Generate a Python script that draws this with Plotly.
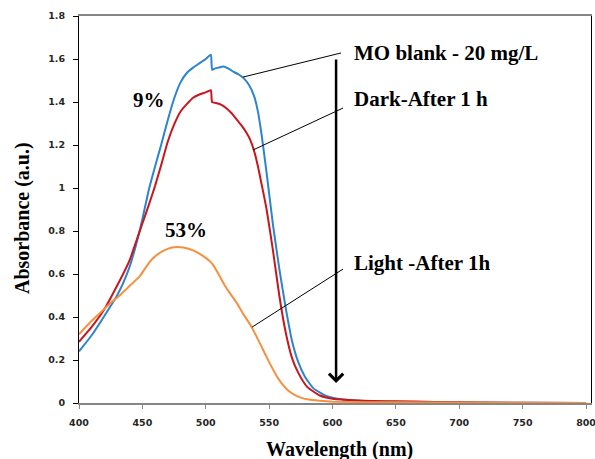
import plotly.graph_objects as go

# ---------------- data ----------------
wl_blank = [400, 410, 420, 430, 435, 440, 445, 450, 455, 460, 465, 470, 475, 480, 485, 490, 495,
            500, 504, 505, 507, 510, 514, 518, 522, 526, 530, 534, 538, 541, 544, 548, 553, 558,
            563, 568, 573, 578, 585, 595, 610, 630, 660, 700, 750, 800]
abs_blank = [0.24, 0.315, 0.405, 0.50, 0.56, 0.635, 0.735, 0.855, 0.99, 1.10, 1.205, 1.315, 1.415, 1.49,
             1.535, 1.56, 1.58, 1.60, 1.62, 1.55, 1.555, 1.56, 1.565, 1.555, 1.54, 1.528, 1.51, 1.48,
             1.43, 1.36, 1.25, 1.07, 0.83, 0.625, 0.445, 0.29, 0.19, 0.125, 0.068, 0.033, 0.015,
             0.008, 0.004, 0.002, 0.001, 0.0]

wl_dark = [400, 410, 420, 430, 440, 445, 450, 455, 460, 465, 470, 475, 480, 485, 490, 495, 500, 504,
           505, 508, 512, 516, 520, 524, 528, 532, 535, 538, 541, 545, 548, 553, 558, 563, 568, 573,
           580, 590, 600, 620, 650, 680, 720, 800]
abs_dark = [0.285, 0.354, 0.436, 0.545, 0.665, 0.75, 0.835, 0.92, 1.01, 1.11, 1.215, 1.295, 1.355,
            1.39, 1.42, 1.435, 1.445, 1.455, 1.40, 1.395, 1.388, 1.372, 1.35, 1.322, 1.292, 1.258,
            1.225, 1.175, 1.105, 0.99, 0.90, 0.71, 0.50, 0.33, 0.21, 0.14, 0.075, 0.035, 0.02, 0.012,
            0.008, 0.005, 0.002, 0.0]

wl_light = [400, 408, 416, 424, 432, 440, 448, 452, 456, 460, 465, 470, 475, 480, 485, 490, 495, 500,
            504, 506, 510, 515, 520, 525, 530, 535, 540, 545, 550, 555, 560, 565, 570, 575, 580,
            590, 600, 650, 800]
abs_light = [0.32, 0.37, 0.415, 0.46, 0.50, 0.545, 0.59, 0.625, 0.658, 0.682, 0.703, 0.717, 0.724,
             0.725, 0.72, 0.71, 0.695, 0.675, 0.655, 0.64, 0.60, 0.547, 0.503, 0.46, 0.41, 0.365,
             0.31, 0.25, 0.19, 0.135, 0.09, 0.058, 0.038, 0.025, 0.017, 0.01, 0.006, 0.003, 0.0]

series_names = ["MO blank - 20 mg/L", "Dark-After 1 h", "Light -After 1h"]
series_colors = ["#2B84CC", "#C8161D", "#F5913E"]

x_ticks = [400, 450, 500, 550, 600, 650, 700, 750, 800]
y_ticks = [0, 0.2, 0.4, 0.6, 0.8, 1, 1.2, 1.4, 1.6, 1.8]
y_ticktext = ["0", "0.2", "0.4", "0.6", "0.8", "1", "1.2", "1.4", "1.6", "1.8"]

# label text positions (data coords) and leader lines (curve point -> label)
label_pos = [(615.4, 1.629), (615.4, 1.414), (615.4, 0.651)]
leader_lines = [((529.4, 1.516), (606.7, 1.628)),
                ((537.3, 1.177), (608.3, 1.372)),
                ((536.5, 0.353), (608.3, 0.623))]
pct_labels = [("9%", 455.2, 1.409), ("53%", 484.4, 0.805)]
arrow_x = 602.8
arrow_from, arrow_to = 1.605, 0.093

# ---------------- figure ----------------
fig = go.Figure()
for wl, ab, name, col in zip([wl_blank, wl_dark, wl_light],
                             [abs_blank, abs_dark, abs_light],
                             series_names, series_colors):
    fig.add_trace(go.Scatter(x=wl, y=ab, mode="lines", name=name,
                             line=dict(color=col, width=2, shape="spline", smoothing=0.5),
                             showlegend=False))

serif = "Liberation Serif, Times New Roman, serif"
ann = []
for (lx, ly), name in zip(label_pos, series_names):
    ann.append(dict(x=lx, y=ly, xref="x", yref="y", text="<b>" + name + "</b>", showarrow=False,
                    xanchor="left", yanchor="middle",
                    font=dict(family=serif, size=21, color="black")))
for t, px, py in pct_labels:
    ann.append(dict(x=px, y=py, xref="x", yref="y", text="<b>" + t + "</b>", showarrow=False,
                    xanchor="center", yanchor="middle",
                    font=dict(family=serif, size=21, color="black")))
ann.append(dict(x=arrow_x, y=arrow_to, ax=arrow_x, ay=arrow_from, xref="x", yref="y",
                axref="x", ayref="y", text="", showarrow=True, arrowhead=4, arrowsize=1.1,
                arrowwidth=2.5, arrowcolor="black"))
# axis titles
ann.append(dict(x=0.508, y=0, xref="paper", yref="paper", yshift=-46, text="<b>Wavelength (nm)</b>",
                showarrow=False, xanchor="center", yanchor="middle",
                font=dict(family=serif, size=20, color="black")))
ann.append(dict(x=0, y=0.478, xref="paper", yref="paper", xshift=-57, text="<b>Absorbance (a.u.)</b>",
                showarrow=False, xanchor="center", yanchor="middle", textangle=-90,
                font=dict(family=serif, size=20, color="black")))

shapes = []
for (x0, y0), (x1, y1) in leader_lines:
    shapes.append(dict(type="line", xref="x", yref="y", x0=x0, y0=y0, x1=x1, y1=y1,
                       line=dict(color="black", width=1)))

tickfont = dict(family="DejaVu Sans, Verdana, sans-serif", size=9.5, color="#262626", weight="bold")

fig.update_layout(
    width=595, height=459,
    margin=dict(l=79, r=4, t=16, b=56, autoexpand=False),
    paper_bgcolor="white", plot_bgcolor="white",
    annotations=ann, shapes=shapes,
    xaxis=dict(range=[400, 803.9], tickvals=x_ticks, ticks="outside", ticklen=4,
               tickcolor="#868686", showline=True, linecolor="#868686", linewidth=1.5,
               mirror=True, showgrid=False, zeroline=False, tickfont=tickfont,
               ticklabelstandoff=6, automargin=False, ticklabeloverflow="allow"),
    yaxis=dict(range=[0, 1.8], tickvals=y_ticks, ticktext=y_ticktext, ticks="outside", ticklen=5,
               tickcolor="black", showline=True, linecolor="black", linewidth=1.2,
               mirror=True, showgrid=False, zeroline=False, tickfont=tickfont,
               ticklabelstandoff=6, automargin=False, ticklabeloverflow="allow"),
)

fig.write_html("out.html", config={"displayModeBar": False},
               post_script="document.body.style.margin='0';document.body.style.overflow='hidden';")
